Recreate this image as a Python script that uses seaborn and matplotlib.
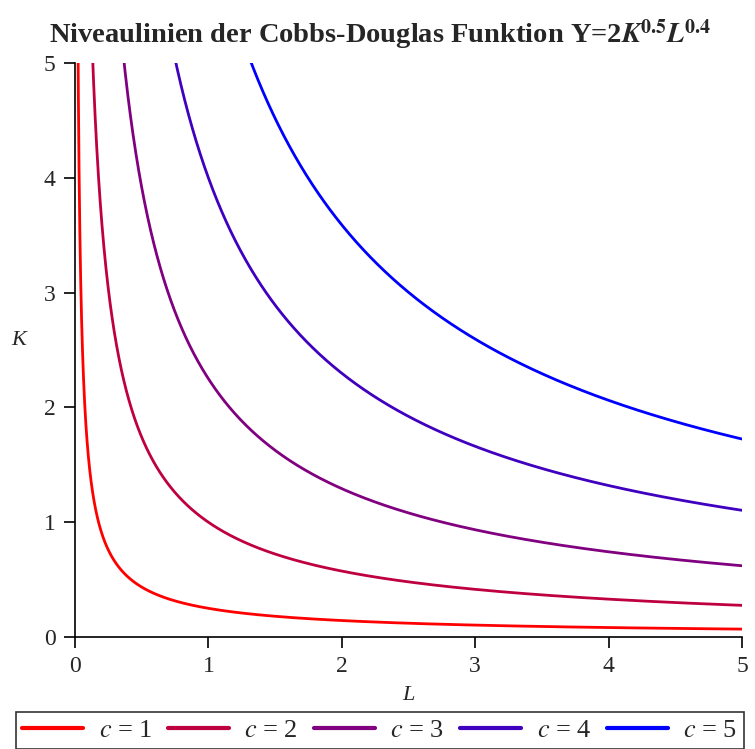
"""Isoquants (level curves) of a Cobb-Douglas function Y = 2 K^0.5 L^0.4"""

import numpy as np
import pandas as pd
import matplotlib

matplotlib.use("Agg")
import matplotlib.pyplot as plt
import seaborn as sns

# function as given in the chart title, and the plotted levels
coef_a = 2.0
exp_k = 0.5
exp_l = 0.4
levels = [1, 2, 3, 4, 5]
level_colors = ["#ff0000", "#bf0040", "#800080", "#4000bf", "#0000ff"]
ticks = [0, 1, 2, 3, 4, 5]

# K on the level curve Y = c, solved for K
L_grid = np.geomspace(0.005, 5, 4000)
rows = []
for c in levels:
    K = (c / (coef_a * L_grid ** exp_l)) ** (1 / exp_k)
    keep = K <= 8
    rows.append(pd.DataFrame({"L": L_grid[keep], "K": K[keep], "c": f"$c$ = {c}"}))
df = pd.concat(rows, ignore_index=True)

sns.set_style("white")
plt.rcParams["font.family"] = ["Liberation Serif", "DejaVu Serif"]
plt.rcParams["mathtext.fontset"] = "stix"

fig = plt.figure(figsize=(7.55, 7.49), dpi=100)
ax = fig.add_axes([0.0993, 0.1495, 0.8835, 0.7664])

sns.lineplot(
    data=df,
    x="L",
    y="K",
    hue="c",
    palette=level_colors,
    linewidth=2.0,
    sort=False,
    estimator=None,
    ax=ax,
)

ax.set_xlim(0, 5)
ax.set_ylim(0, 5)
ax.set_xticks(ticks)
ax.set_yticks(ticks)
ax.set_xticks(np.arange(0.5, 5, 1), minor=True)
ax.set_yticks(np.arange(0.5, 5, 1), minor=True)
ax.tick_params(which="major", length=8, width=1.2, labelsize=17, direction="out",
               color="black", pad=6)
ax.tick_params(which="minor", length=4, width=1.2, direction="out", color="black")
ax.tick_params(axis="x", bottom=True)
ax.tick_params(axis="y", left=True)

for s in ["top", "right"]:
    ax.spines[s].set_visible(False)
for s in ["left", "bottom"]:
    ax.spines[s].set_color("black")
    ax.spines[s].set_linewidth(1.2)

ax.set_xlabel("L", fontstyle="italic", fontsize=16)
ax.set_ylabel("K", fontstyle="italic", fontsize=16, rotation=0)
ax.yaxis.set_label_coords(-0.085, 0.5)
ax.xaxis.set_label_coords(0.5, -0.085)

fig.text(0.503, 0.953, r"Niveaulinien der Cobbs-Douglas Funktion Y=2$\mathbfit{K}^{\mathbf{0.5}}\mathbfit{L}^{\mathbf{0.4}}$",
         ha="center", va="center", fontsize=20.5, fontweight="bold")

ax.legend_.remove()
handles, labels = ax.get_legend_handles_labels()
leg = fig.legend(
    handles,
    labels,
    loc="upper center",
    bbox_to_anchor=(0.503, 0.049),
    borderaxespad=0,
    ncol=5,
    fontsize=19,
    frameon=True,
    fancybox=False,
    edgecolor="black",
    handlelength=2.3,
    columnspacing=0.6,
    handletextpad=0.6,
    borderpad=0.25,
)
leg.get_frame().set_linewidth(1.2)
for line in leg.get_lines():
    line.set_linewidth(3)

fig.savefig("out.png", dpi=100)
